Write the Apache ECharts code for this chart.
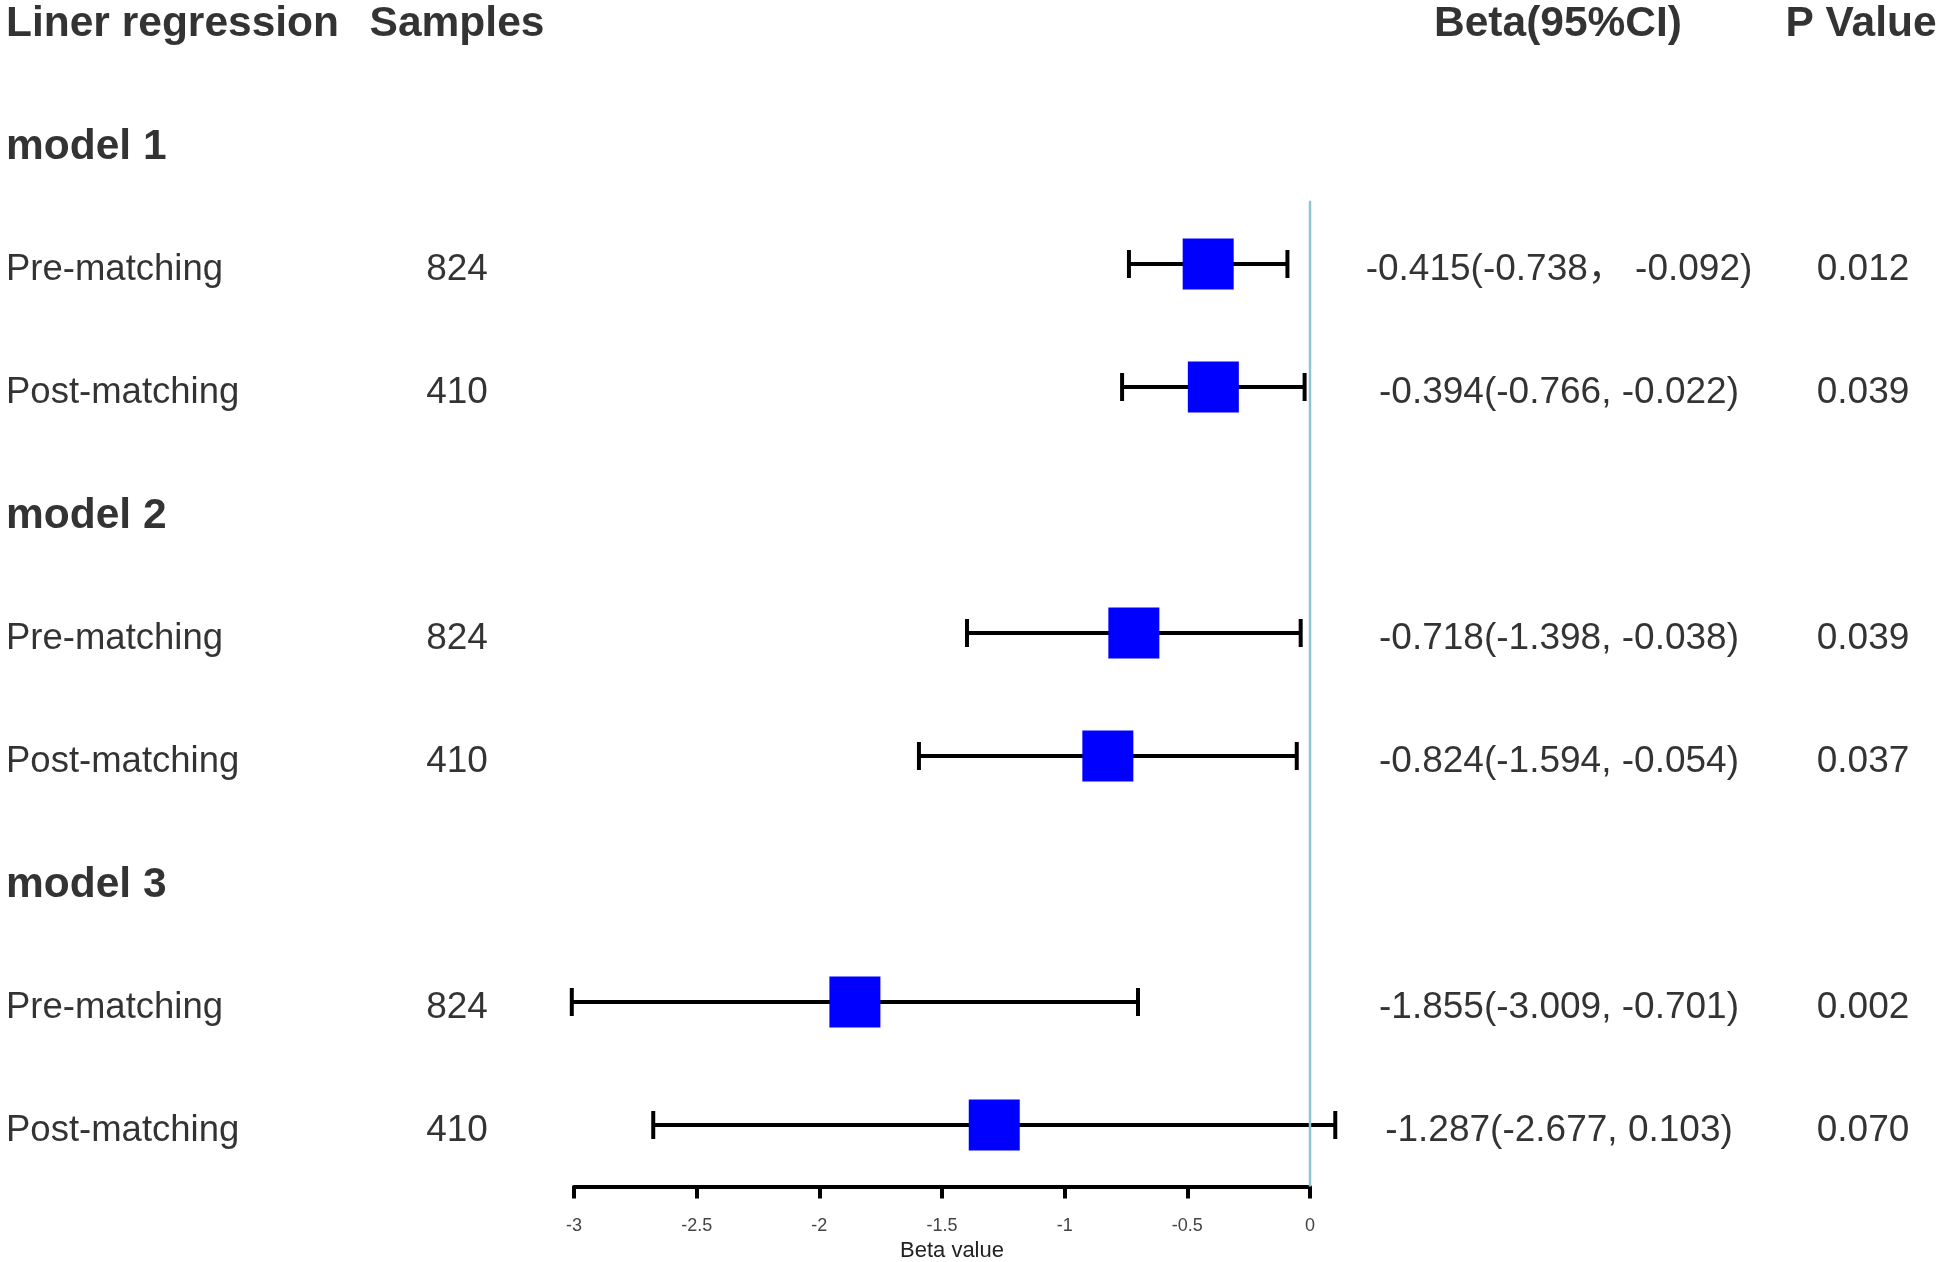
<!DOCTYPE html>
<html>
<head>
<meta charset="utf-8">
<script src="https://cdn.jsdelivr.net/npm/echarts@6/dist/echarts.min.js"></script>
<style>
html,body{margin:0;padding:0;background:#fff;}
#chart{width:1944px;height:1262px;}
</style>
</head>
<body>
<div id="chart"></div>
<script>
// ---- data ----
const headers = ['Liner regression', 'Samples', 'Beta(95%CI)', 'P Value'];
const groups = ['model 1', 'model 2', 'model 3'];
const subgroups = ['Pre-matching', 'Post-matching', 'Pre-matching', 'Post-matching', 'Pre-matching', 'Post-matching'];
const samples = [824, 410, 824, 410, 824, 410];
const beta = [-0.415, -0.394, -0.718, -0.824, -1.855, -1.287];
const lower = [-0.738, -0.766, -1.398, -1.594, -3.009, -2.677];
const upper = [-0.092, -0.022, -0.038, -0.054, -0.701, 0.103];
const ciLabels = ['-0.415(-0.738\uFF0C -0.092)', '-0.394(-0.766, -0.022)', '-0.718(-1.398, -0.038)',
                  '-0.824(-1.594, -0.054)', '-1.855(-3.009, -0.701)', '-1.287(-2.677, 0.103)'];
const pValues = ['0.012', '0.039', '0.039', '0.037', '0.002', '0.070'];
const xTicks = [-3, -2.5, -2, -1.5, -1, -0.5, 0];

// ---- layout (row index on y axis) ----
const groupRow = g => 1 + 3 * g;
const itemRow = i => 2 + 3 * Math.floor(i / 2) + (i % 2);
const COL = { label: 6, samples: 457, ci: 1559, p: 1863 };
const HEAD_COL = [6, 457, 1558, 1861];
const FONT = "'Liberation Sans', Arial, 'Noto Sans CJK SC', sans-serif";

const chart = echarts.init(document.getElementById('chart'), null, { renderer: 'canvas' });

function textSeries(name, items, align, fontSize, bold) {
  return {
    name: name, type: 'scatter', xAxisIndex: 1, yAxisIndex: 1,
    symbolSize: 0, silent: true, z: 5,
    data: items,
    label: {
      show: true, position: [0, 0], formatter: '{b}',
      align: align, verticalAlign: 'middle',
      fontSize: fontSize, fontWeight: bold ? 'bold' : 'normal',
      fontFamily: FONT, color: '#000'
    }
  };
}

const headerItems = headers.map((h, k) => ({ name: h, value: [HEAD_COL[k], 0.055] }));
const groupItems = groups.map((g, k) => ({ name: g, value: [COL.label, groupRow(k) + 0.05] }));
const subItems = subgroups.map((s, i) => ({ name: s, value: [COL.label, itemRow(i) + 0.045] }));
const sampleItems = samples.map((s, i) => ({ name: String(s), value: [COL.samples, itemRow(i) + 0.045] }));
const ciItems = ciLabels.map((s, i) => ({ name: s, value: [COL.ci, itemRow(i) + 0.045] }));
const pItems = pValues.map((s, i) => ({ name: s, value: [COL.p, itemRow(i) + 0.045] }));

const whiskerData = beta.map((b, i) => [itemRow(i), lower[i], upper[i]]);
const pointData = beta.map((b, i) => [b, itemRow(i)]);

const option = {
  animation: false,
  backgroundColor: '#ffffff',
  grid: [
    { left: 574, right: 634, top: 18, bottom: 75.5, containLabel: false, outerBoundsMode: 'none' },
    { left: 0, right: 0, top: 18, bottom: 75.5, containLabel: false, outerBoundsMode: 'none' }
  ],
  xAxis: [
    {
      type: 'value', gridIndex: 0, min: xTicks[0], max: xTicks[xTicks.length - 1], interval: 0.5,
      name: 'Beta value', nameLocation: 'middle', nameGap: 52,
      nameTextStyle: { fontSize: 22, color: '#222', fontFamily: FONT, padding: [0, 0, 0, 20] },
      axisLine: { show: true, onZero: false, lineStyle: { color: '#000', width: 4 } },
      axisTick: { show: true, length: 12, lineStyle: { color: '#000', width: 4 } },
      axisLabel: { fontSize: 18, color: '#444', margin: 31, fontFamily: FONT },
      splitLine: { show: false }
    },
    { type: 'value', gridIndex: 1, min: 0, max: 1944, show: false }
  ],
  yAxis: [
    { type: 'value', gridIndex: 0, min: 0, max: 9.5, inverse: true, show: false },
    { type: 'value', gridIndex: 1, min: 0, max: 9.5, inverse: true, show: false }
  ],
  series: [
    {
      name: 'ref', type: 'line', xAxisIndex: 0, yAxisIndex: 0,
      data: [[0, 1.485], [0, 9.5]], symbol: 'none', silent: true, z: 4,
      lineStyle: { color: '#8ec6d0', width: 2.5 }
    },
    {
      name: 'CI', type: 'custom', xAxisIndex: 0, yAxisIndex: 0, clip: false, z: 2,
      data: whiskerData,
      renderItem: function (params, api) {
        const row = api.value(0);
        const p1 = api.coord([api.value(1), row]);
        const p2 = api.coord([api.value(2), row]);
        const h = 14;
        const st = { stroke: '#000', lineWidth: 4 };
        return {
          type: 'group',
          children: [
            { type: 'line', shape: { x1: p1[0], y1: p1[1], x2: p2[0], y2: p2[1] }, style: st },
            { type: 'line', shape: { x1: p1[0], y1: p1[1] - h, x2: p1[0], y2: p1[1] + h }, style: st },
            { type: 'line', shape: { x1: p2[0], y1: p2[1] - h, x2: p2[0], y2: p2[1] + h }, style: st }
          ]
        };
      }
    },
    {
      name: 'Beta', type: 'scatter', xAxisIndex: 0, yAxisIndex: 0, z: 3,
      data: pointData, symbol: 'rect', symbolSize: 51,
      itemStyle: { color: '#0000ff', opacity: 1 }
    },
    textSeries('headers', headerItems.slice(0, 1), 'left', 42.5, true),
    textSeries('headers2', headerItems.slice(1), 'center', 42.5, true),
    textSeries('groups', groupItems, 'left', 42.5, true),
    textSeries('subgroups', subItems, 'left', 36.5, false),
    textSeries('samples', sampleItems, 'center', 37, false),
    textSeries('ci', ciItems, 'center', 37, false),
    textSeries('p', pItems, 'center', 37, false)
  ]
};
chart.setOption(option);
</script>
</body>
</html>
